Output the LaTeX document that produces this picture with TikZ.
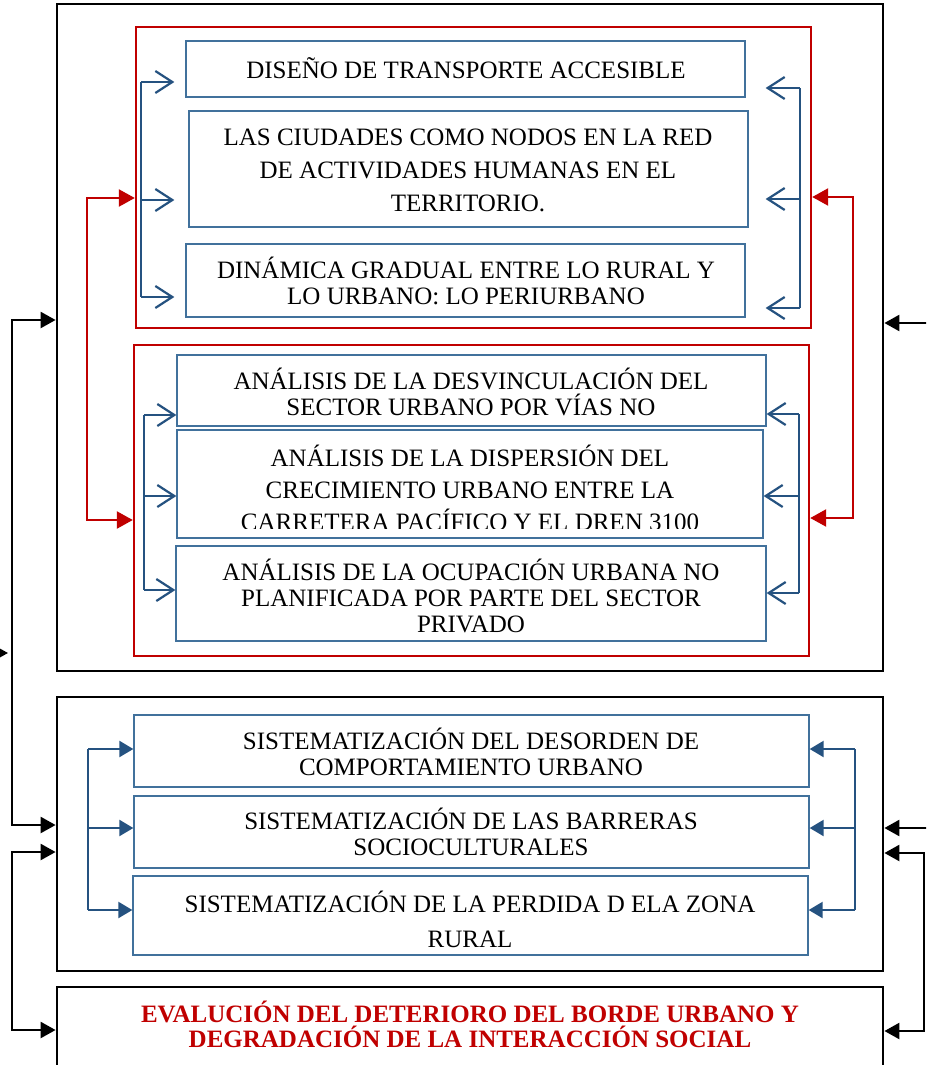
\documentclass[tikz,border=0pt]{standalone}
\usepackage{fontspec}
\setmainfont{Liberation Serif}
\usetikzlibrary{arrows.meta,fit}
\definecolor{boxblue}{RGB}{65,113,156}
\definecolor{arrblue}{RGB}{37,82,128}
\definecolor{darkred}{RGB}{192,0,0}
\tikzset{
 blackframe/.style={draw=black, line width=2.8pt, inner sep=0pt},
 redframe/.style={draw=darkred, line width=2.4pt, inner sep=0pt},
 bluebox/.style={draw=boxblue, line width=1.3pt, inner sep=0pt},
 plaintext/.style={inner sep=0pt, align=center, text=black, font=\fontsize{25}{26}\selectfont},
 trunk/.style={draw=arrblue, line width=1.3pt},
 openarrow/.style={draw=arrblue, line width=2.2pt, -{Straight Barb[length=17pt,width=22pt]}},
 fillarrow/.style={draw=arrblue, line width=2.2pt, -{Triangle[length=14pt,width=16pt]}},
 redconn/.style={draw=darkred, line width=2.4pt, {Triangle[length=16pt,width=17pt]}-{Triangle[length=16pt,width=17pt]}},
 blackconn/.style={draw=black, line width=2.4pt, {Triangle[length=15pt,width=16pt]}-{Triangle[length=15pt,width=16pt]}},
 blackarrow/.style={draw=black, line width=2.4pt, -{Triangle[length=15pt,width=16pt]}},
}
\begin{document}
\begin{tikzpicture}[x=1pt,y=-1pt]
\useasboundingbox (0,0) rectangle (926,1065);
\clip (0,0) rectangle (926,1065);
\fill[white] (0,0) rectangle (926,1065);

% outer frames
\node[blackframe, fit={(57,4) (883,671)}] (top) {};
\node[blackframe, fit={(57,697) (883,971)}] (mid) {};
\node[blackframe, fit={(57,987) (883,1110)}] (bot) {};
\node[plaintext, text=darkred, font=\bfseries\fontsize{25}{25}\selectfont] (bottext) at (470,1024.5)
 {EVALUCIÓN DEL DETERIORO DEL BORDE URBANO Y\\DEGRADACIÓN DE LA INTERACCIÓN SOCIAL};

% red frames
\node[redframe, fit={(136,27) (811,328)}] (rb1) {};
\node[redframe, fit={(134,345) (809,656)}] (rb2) {};

% blue boxes, first red frame
\node[bluebox, fit={(186,41) (745,97)}] (b1) {};
\node[plaintext] (t1) at (466,68) {DISEÑO DE TRANSPORTE ACCESIBLE};
\node[bluebox, fit={(189,111) (748,227)}] (b2) {};
\node[plaintext, font=\fontsize{25}{33}\selectfont] (t2) at (468,170) {LAS CIUDADES COMO NODOS EN LA RED\\DE ACTIVIDADES HUMANAS EN EL\\TERRITORIO.};
\node[bluebox, fit={(186,244) (745,317)}] (b3) {};
\node[plaintext] (t3) at (466,281) {DINÁMICA GRADUAL ENTRE LO RURAL Y\\LO URBANO: LO PERIURBANO};

% blue boxes, second red frame
\node[bluebox, fit={(177,355) (766,426)}] (b4) {};
\node[plaintext] (t4) at (471,392) {ANÁLISIS DE LA DESVINCULACIÓN DEL\\SECTOR URBANO POR VÍAS NO};
\node[bluebox, fit={(177,430) (763,538)}] (b5) {};
\begin{scope}
 \clip (177,431) rectangle (763,528);
 \node[plaintext, font=\fontsize{25}{32}\selectfont] (t5) at (470,488) {ANÁLISIS DE LA DISPERSIÓN DEL\\CRECIMIENTO URBANO ENTRE LA\\CARRETERA PACÍFICO Y EL DREN 3100};
\end{scope}
\node[bluebox, fit={(176,546) (766,641)}] (b6) {};
\node[plaintext] (t6) at (471,596) {ANÁLISIS DE LA OCUPACIÓN URBANA NO\\PLANIFICADA POR PARTE DEL SECTOR\\PRIVADO};

% blue boxes, middle frame
\node[bluebox, fit={(134,715) (809,787)}] (b7) {};
\node[plaintext] (t7) at (471,751.5) {SISTEMATIZACIÓN DEL DESORDEN DE\\COMPORTAMIENTO URBANO};
\node[bluebox, fit={(134,796) (809,868)}] (b8) {};
\node[plaintext] (t8) at (471,832) {SISTEMATIZACIÓN DE LAS BARRERAS\\SOCIOCULTURALES};
\node[bluebox, fit={(133,876) (808,955)}] (b9) {};
\node[plaintext, font=\fontsize{25}{35}\selectfont] (t9) at (470,919.5) {SISTEMATIZACIÓN DE LA PERDIDA D ELA ZONA\\RURAL};

% trunks, first red frame
\coordinate (la1) at (141,82);
\coordinate (la2) at (141,200);
\coordinate (la3) at (141,297);
\coordinate (ra1) at (800,88);
\coordinate (ra2) at (800,199);
\coordinate (ra3) at (800,308);
\draw[trunk] (la1) -- (la3);
\draw[trunk] (ra1) -- (ra3);
\draw[openarrow, shorten >=11pt] (la1) -- (la1 -| b1.west);
\draw[openarrow, shorten >=14pt] (la2) -- (la2 -| b2.west);
\draw[openarrow, shorten >=11pt] (la3) -- (la3 -| b3.west);
\draw[openarrow, shorten >=20pt] (ra1) -- (ra1 -| b1.east);
\draw[openarrow, shorten >=17pt] (ra2) -- (ra2 -| b2.east);
\draw[openarrow, shorten >=20pt] (ra3) -- (ra3 -| b3.east);

% trunks, second red frame
\coordinate (lb1) at (144,415);
\coordinate (lb2) at (144,496);
\coordinate (lb3) at (144,590);
\coordinate (rbb1) at (799,414);
\coordinate (rbb2) at (799,496);
\coordinate (rbb3) at (799,593);
\draw[trunk] (lb1) -- (lb3);
\draw[trunk] (rbb1) -- (rbb3);
\draw[openarrow] (lb1) -- (lb1 -| b4.west);
\draw[openarrow] (lb2) -- (lb2 -| b5.west);
\draw[openarrow] (lb3) -- (lb3 -| b6.west);
\draw[openarrow] (rbb1) -- (rbb1 -| b4.east);
\draw[openarrow] (rbb2) -- (rbb2 -| b5.east);
\draw[openarrow] (rbb3) -- (rbb3 -| b6.east);

% trunks, middle frame
\coordinate (lc1) at (88,749);
\coordinate (lc2) at (88,828);
\coordinate (lc3) at (88,910);
\coordinate (rc1) at (855,749);
\coordinate (rc2) at (855,828);
\coordinate (rc3) at (855,910);
\draw[trunk] (lc1) -- (lc3);
\draw[trunk] (rc1) -- (rc3);
\draw[fillarrow] (lc1) -- (lc1 -| b7.west);
\draw[fillarrow] (lc2) -- (lc2 -| b8.west);
\draw[fillarrow] (lc3) -- (lc3 -| b9.west);
\draw[fillarrow] (rc1) -- (rc1 -| b7.east);
\draw[fillarrow] (rc2) -- (rc2 -| b8.east);
\draw[fillarrow] (rc3) -- (rc3 -| b9.east);

% red connectors
\coordinate (rl1) at (87,198);
\coordinate (rl2) at (87,520);
\coordinate (rr1) at (853,197);
\coordinate (rr2) at (853,518);
\draw[redconn] (rl1 -| rb1.west) -- (rl1) -- (rl2) -- (rl2 -| rb2.west);
\draw[redconn] (rr1 -| rb1.east) -- (rr1) -- (rr2) -- (rr2 -| rb2.east);

% black connectors
\coordinate (ka) at (12,320);
\coordinate (kb) at (12,825);
\coordinate (kc) at (12,852);
\coordinate (kd) at (12,1030);
\draw[blackconn] (ka -| top.west) -- (ka) -- (kb) -- (kb -| mid.west);
\draw[blackconn] (kc -| mid.west) -- (kc) -- (kd) -- (kd -| bot.west);
\coordinate (ja) at (940,323);
\coordinate (jb) at (940,828);
\coordinate (jc) at (924,853);
\coordinate (jd) at (924,1031);
\draw[blackarrow] (ja) -- (ja -| top.east);
\draw[blackarrow] (jb) -- (jb -| mid.east);
\draw[blackconn] (jc -| mid.east) -- (jc) -- (jd) -- (jd -| bot.east);
\coordinate (ka0) at (-40,653);
\coordinate (ka1) at (8,653);
\draw[blackarrow] (ka0) -- (ka1);
\end{tikzpicture}
\end{document}
